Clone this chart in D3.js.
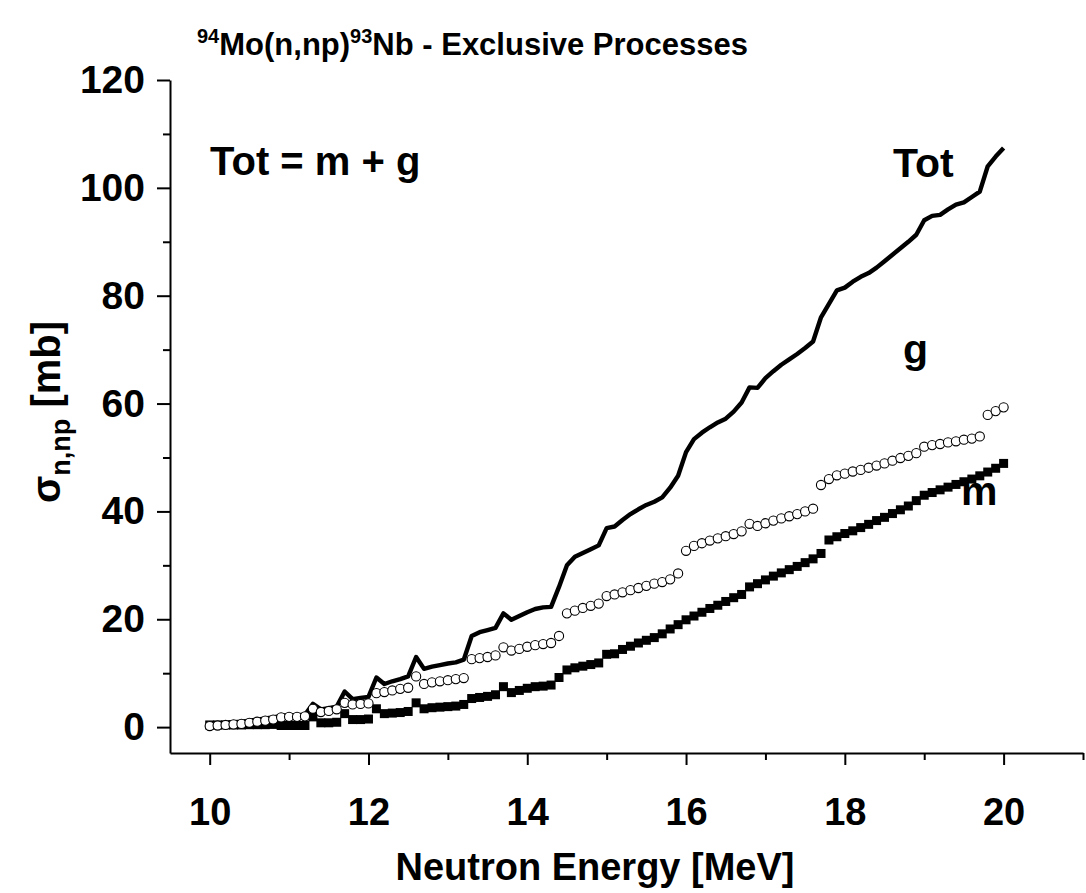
<!DOCTYPE html>
<html><head><meta charset="utf-8">
<script src="https://cdn.jsdelivr.net/npm/d3@7"></script>
<style>
body{margin:0;background:#fff}
text{font-family:"Liberation Sans",Arial,sans-serif;font-weight:bold;fill:#000}
</style>
</head><body>
<svg id="c" width="1086" height="893"></svg>
<script>
// Neutron energy grid [MeV]
const energy = [
10.0,10.1,10.2,10.3,10.4,10.5,10.6,10.7,10.8,10.9,
11.0,11.1,11.2,11.3,11.4,11.5,11.6,11.7,11.8,11.9,
12.0,12.1,12.2,12.3,12.4,12.5,12.6,12.7,12.8,12.9,
13.0,13.1,13.2,13.3,13.4,13.5,13.6,13.7,13.8,13.9,
14.0,14.1,14.2,14.3,14.4,14.5,14.6,14.7,14.8,14.9,
15.0,15.1,15.2,15.3,15.4,15.5,15.6,15.7,15.8,15.9,
16.0,16.1,16.2,16.3,16.4,16.5,16.6,16.7,16.8,16.9,
17.0,17.1,17.2,17.3,17.4,17.5,17.6,17.7,17.8,17.9,
18.0,18.1,18.2,18.3,18.4,18.5,18.6,18.7,18.8,18.9,
19.0,19.1,19.2,19.3,19.4,19.5,19.6,19.7,19.8,19.9,
20.0];
// m (metastable) cross section [mb]
const mVals = [
0.4,0.4,0.4,0.4,0.4,0.45,0.45,0.45,0.5,0.3,
0.3,0.3,0.3,1.9,0.8,0.8,0.9,2.5,1.4,1.4,
1.5,3.4,2.5,2.6,2.7,2.9,4.5,3.4,3.6,3.7,
3.8,3.9,4.2,5.3,5.5,5.7,6.0,7.5,6.4,6.8,
7.2,7.5,7.6,7.8,9.2,10.6,11.0,11.3,11.6,11.9,
13.5,13.6,14.4,15.0,15.6,16.1,16.6,17.3,18.2,19.0,
19.9,20.6,21.3,22.0,22.6,23.3,24.0,24.6,26.0,26.6,
27.3,28.0,28.6,29.2,29.8,30.5,31.2,32.2,34.7,35.3,
35.9,36.4,37.0,37.6,38.3,38.9,39.6,40.3,41.0,42.0,
43.0,43.5,44.0,44.5,45.0,45.5,46.0,46.6,47.3,48.0,
48.9];
// g (ground state) cross section [mb]
const gVals = [
0.2,0.3,0.4,0.5,0.6,0.8,1.0,1.2,1.4,1.8,
1.9,1.9,2.0,3.4,2.8,3.0,3.3,4.5,4.2,4.3,
4.4,6.3,6.5,6.8,7.1,7.3,9.4,8.0,8.3,8.5,
8.7,8.9,9.1,12.6,12.8,13.0,13.3,14.8,14.2,14.5,
14.9,15.2,15.4,15.6,16.9,21.1,21.6,22.1,22.5,22.9,
24.3,24.6,25.0,25.4,25.8,26.2,26.6,26.9,27.4,28.5,
32.7,33.6,34.1,34.6,35.0,35.4,35.8,36.3,37.7,37.3,
37.8,38.3,38.7,39.1,39.5,40.0,40.5,44.9,46.0,46.7,
47.0,47.4,47.7,48.1,48.5,48.9,49.4,49.9,50.3,50.8,
52.0,52.3,52.5,52.8,53.0,53.3,53.5,53.9,57.9,58.6,
59.3];
// Tot = m + g [mb]
const totVals = [
0.6,0.7,0.8,0.9,1.0,1.2,1.4,1.6,1.8,2.1,
2.2,2.2,2.3,4.3,3.3,3.5,3.8,6.6,5.2,5.4,
5.6,9.2,8.0,8.5,8.9,9.4,13.0,10.8,11.2,11.5,
11.8,12.0,12.5,16.9,17.6,18.0,18.4,21.1,19.9,20.6,
21.3,21.9,22.2,22.3,26.0,30.0,31.6,32.3,33.0,33.7,
36.9,37.2,38.4,39.5,40.4,41.2,41.8,42.6,44.4,46.6,
51.0,53.4,54.6,55.6,56.5,57.2,58.5,60.2,63.0,62.9,
64.7,66.0,67.2,68.2,69.2,70.3,71.5,76.0,78.5,81.0,
81.5,82.6,83.5,84.2,85.2,86.4,87.6,88.8,90.0,91.3,
94.0,94.8,95.0,96.0,96.9,97.3,98.3,99.3,104.0,105.8,
107.4];
const xMajor = [10,12,14,16,18,20];
const xMinor = [11,13,15,17,19,21];
const yMajor = [0,20,40,60,80,100,120];
const yMinor = [10,30,50,70,90,110];

const svg = d3.select("#c");
const x = d3.scaleLinear().domain([9.5,21.0]).range([170,1083]);
const y = d3.scaleLinear().domain([-4.8,120]).range([753,80]);

// axes
const gx = svg.append("g").attr("transform","translate(0,753)");
gx.call(d3.axisBottom(x).tickValues(xMajor).tickSize(12).tickSizeOuter(0).tickPadding(33).tickFormat(d3.format("d")));
const gxm = svg.append("g").attr("transform","translate(0,753)");
gxm.call(d3.axisBottom(x).tickValues(xMinor).tickSize(7).tickSizeOuter(0).tickFormat(""));
gxm.select(".domain").remove();
const gy = svg.append("g").attr("transform","translate(170,0)");
gy.call(d3.axisLeft(y).tickValues(yMajor).tickSize(13).tickSizeOuter(0).tickPadding(12).tickFormat(d3.format("d")));
const gym = svg.append("g").attr("transform","translate(170,0)");
gym.call(d3.axisLeft(y).tickValues(yMinor).tickSize(7).tickSizeOuter(0).tickFormat(""));
gym.select(".domain").remove();
svg.selectAll(".domain").attr("stroke","#000").attr("stroke-width",2);
svg.selectAll(".tick line").attr("stroke","#000").attr("stroke-width",2);
svg.selectAll(".tick text").attr("font-family","Liberation Sans, Arial, sans-serif").attr("font-weight","bold").attr("fill","#000");
gx.selectAll(".tick text").attr("font-size",38);
gy.selectAll(".tick text").attr("font-size",39);

// Tot line
const line = d3.line().x((d,i)=>x(energy[i])).y(d=>y(d));
svg.append("path").datum(totVals).attr("d",line)
  .attr("fill","none").attr("stroke","#000").attr("stroke-width",4.4).attr("stroke-linejoin","round");

// m squares
svg.append("g").selectAll("rect").data(mVals).join("rect")
  .attr("x",(d,i)=>x(energy[i])-4.5).attr("y",d=>y(d)-4.5)
  .attr("width",9).attr("height",9).attr("fill","#000");

// g circles
svg.append("g").selectAll("circle").data(gVals).join("circle")
  .attr("cx",(d,i)=>x(energy[i])).attr("cy",d=>y(d)).attr("r",4.6)
  .attr("fill","#fff").attr("stroke","#000").attr("stroke-width",1.1);

// Title
const t = svg.append("text").attr("x",197).attr("y",55).attr("font-size",31);
t.append("tspan").attr("font-size",20).attr("dy",-12).text("94");
t.append("tspan").attr("dy",12).text("Mo(n,np)");
t.append("tspan").attr("font-size",20).attr("dy",-12).text("93");
t.append("tspan").attr("dy",12).text("Nb - Exclusive Processes");

// Annotations
svg.append("text").attr("x",210).attr("y",175).attr("font-size",40).text("Tot = m + g");
svg.append("text").attr("x",893).attr("y",177).attr("font-size",41).text("Tot");
svg.append("text").attr("x",903).attr("y",363).attr("font-size",41).text("g");
svg.append("text").attr("x",961).attr("y",505).attr("font-size",41).text("m");

// Axis titles
svg.append("text").attr("x",595).attr("y",880).attr("text-anchor","middle").attr("font-size",38).text("Neutron Energy [MeV]");
const yl = svg.append("text").attr("transform","translate(60,412) rotate(-90)").attr("text-anchor","middle").attr("font-size",40);
yl.append("tspan").text("σ");
yl.append("tspan").attr("font-size",27).attr("dy",10).text("n,np");
yl.append("tspan").attr("dy",-10).text(" [mb]");
</script>
</body></html>
